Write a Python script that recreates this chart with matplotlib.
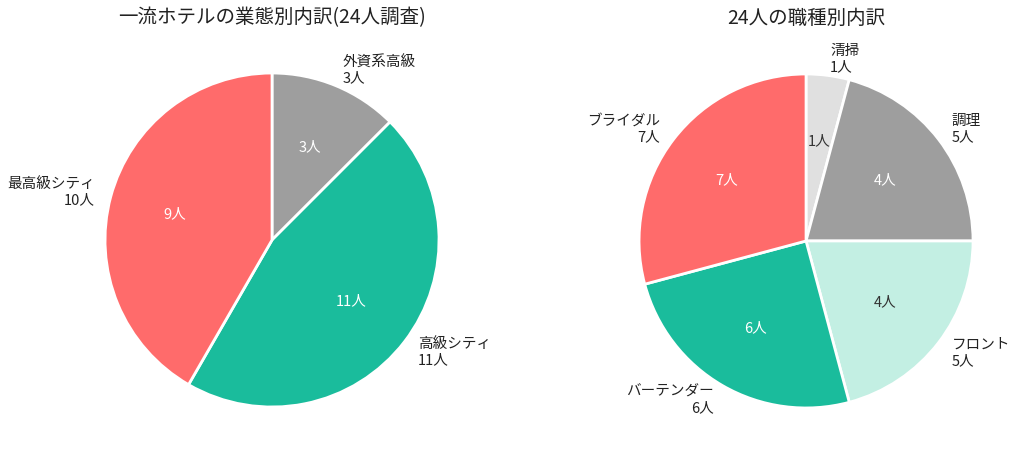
import matplotlib.pyplot as plt

plt.rcParams['font.family'] = ['Noto Sans CJK JP', 'DejaVu Sans']

# 業態別
type_labels = ['外資系高級', '高級シティ', '最高級シティ']
type_counts = [3, 11, 10]
type_colors = ['#9E9E9E', '#1ABC9C', '#FF6B6B']

# 職種別
job_labels = ['清掃', '調理', 'フロント', 'バーテンダー', 'ブライダル']
job_counts = [1, 5, 5, 6, 7]
job_colors = ['#E0E0E0', '#9E9E9E', '#C3EFE3', '#1ABC9C', '#FF6B6B']
dark_text = ['清掃', 'フロント']


def draw(ax, labels, counts, colors, title):
    total = sum(counts)
    outer = [f'{l}\n{c}人' for l, c in zip(labels, counts)]
    wedges, texts, autotexts = ax.pie(
        counts, labels=outer, colors=colors, startangle=90, counterclock=False,
        autopct=lambda p: f'{int(p * total / 100)}人',
        wedgeprops=dict(edgecolor='white', linewidth=2),
        textprops=dict(fontsize=10.5, color='#222222'))
    for l, t in zip(labels, autotexts):
        t.set_color('#333333' if l in dark_text else 'white')
        t.set_fontsize(10.5)
    ax.set_title(title, fontsize=14, color='#222222')


fig = plt.figure(figsize=(10.24, 4.59), dpi=100)
ax1 = fig.add_axes([0.0618, 0.0223, 0.4077, 0.9096])
ax2 = fig.add_axes([0.5833, 0.0202, 0.4077, 0.9096])
draw(ax1, type_labels, type_counts, type_colors, '一流ホテルの業態別内訳(24人調査)')
draw(ax2, job_labels, job_counts, job_colors, '24人の職種別内訳')

plt.savefig('out.png', dpi=100)
